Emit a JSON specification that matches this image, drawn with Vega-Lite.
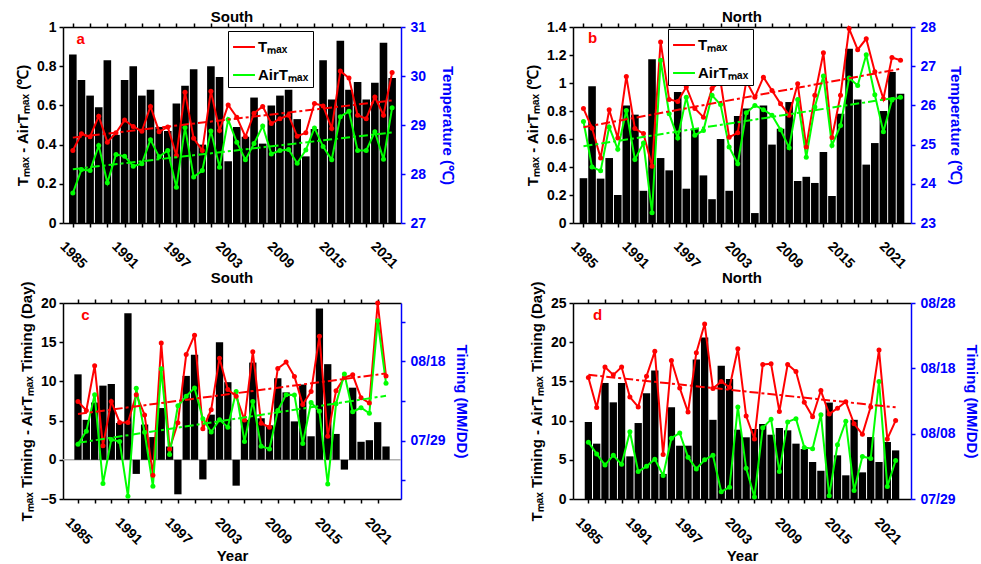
{
  "$schema": "https://vega.github.io/schema/vega-lite/v6.json",
  "padding": {"left": 15, "top": 10, "right": 5, "bottom": 2},
  "config": {
    "view": {"stroke": null},
    "axis": {"grid": false, "labelFont": "Liberation Sans", "labelFontSize": 14, "labelFontWeight": "bold", "titleFont": "Liberation Sans", "titleFontSize": 15, "titleFontWeight": "bold", "tickSize": 4, "tickWidth": 1.5, "domainWidth": 1.5, "labelColor": "black", "titleColor": "black", "tickColor": "black", "domainColor": "black", "labelPadding": 3, "labelOverlap": false},
    "title": {"font": "Liberation Sans", "fontSize": 15, "fontWeight": "bold", "offset": -5, "color": "black"}
  },
  "datasets": {
    "a": [
      {"year":1985,"diff":0.86,"Tmax":28.48,"AirTmax":27.61},{"year":1986,"diff":0.73,"Tmax":28.82,"AirTmax":28.09},{"year":1987,"diff":0.65,"Tmax":28.76,"AirTmax":28.07},{"year":1988,"diff":0.59,"Tmax":29.18,"AirTmax":28.58},{"year":1989,"diff":0.83,"Tmax":28.65,"AirTmax":27.82},{"year":1990,"diff":0.45,"Tmax":28.84,"AirTmax":28.40},{"year":1991,"diff":0.73,"Tmax":29.10,"AirTmax":28.36},{"year":1992,"diff":0.80,"Tmax":28.97,"AirTmax":28.16},{"year":1993,"diff":0.65,"Tmax":28.87,"AirTmax":28.21},{"year":1994,"diff":0.68,"Tmax":29.38,"AirTmax":28.70},{"year":1995,"diff":0.49,"Tmax":28.86,"AirTmax":28.35},{"year":1996,"diff":0.47,"Tmax":28.96,"AirTmax":28.48},{"year":1997,"diff":0.61,"Tmax":28.38,"AirTmax":27.73},{"year":1998,"diff":0.70,"Tmax":29.67,"AirTmax":28.95},{"year":1999,"diff":0.785,"Tmax":28.73,"AirTmax":27.94},{"year":2000,"diff":0.40,"Tmax":28.48,"AirTmax":28.07},{"year":2001,"diff":0.80,"Tmax":29.69,"AirTmax":28.88},{"year":2002,"diff":0.745,"Tmax":28.89,"AirTmax":28.14},{"year":2003,"diff":0.315,"Tmax":29.41,"AirTmax":29.11},{"year":2004,"diff":0.49,"Tmax":29.16,"AirTmax":28.65},{"year":2005,"diff":0.44,"Tmax":28.76,"AirTmax":28.29},{"year":2006,"diff":0.64,"Tmax":29.24,"AirTmax":28.62},{"year":2007,"diff":0.405,"Tmax":29.38,"AirTmax":28.98},{"year":2008,"diff":0.60,"Tmax":29.03,"AirTmax":28.41},{"year":2009,"diff":0.65,"Tmax":29.13,"AirTmax":28.48},{"year":2010,"diff":0.68,"Tmax":29.20,"AirTmax":28.50},{"year":2011,"diff":0.53,"Tmax":28.77,"AirTmax":28.22},{"year":2012,"diff":0.34,"Tmax":28.84,"AirTmax":28.49},{"year":2013,"diff":0.48,"Tmax":29.44,"AirTmax":28.94},{"year":2014,"diff":0.83,"Tmax":29.39,"AirTmax":28.56},{"year":2015,"diff":0.63,"Tmax":28.93,"AirTmax":28.29},{"year":2016,"diff":0.93,"Tmax":30.10,"AirTmax":29.17},{"year":2017,"diff":0.68,"Tmax":29.96,"AirTmax":29.28},{"year":2018,"diff":0.72,"Tmax":29.20,"AirTmax":28.48},{"year":2019,"diff":0.63,"Tmax":29.13,"AirTmax":28.48},{"year":2020,"diff":0.715,"Tmax":29.57,"AirTmax":28.86},{"year":2021,"diff":0.92,"Tmax":29.20,"AirTmax":28.30},{"year":2022,"diff":0.74,"Tmax":30.07,"AirTmax":29.35}
    ],
    "b": [
      {"year":1985,"diff":0.32,"Tmax":25.92,"AirTmax":25.59},{"year":1986,"diff":0.976,"Tmax":25.42,"AirTmax":24.43},{"year":1987,"diff":0.317,"Tmax":24.66,"AirTmax":24.33},{"year":1988,"diff":0.464,"Tmax":25.89,"AirTmax":25.45},{"year":1989,"diff":0.20,"Tmax":25.17,"AirTmax":24.88},{"year":1990,"diff":0.84,"Tmax":26.74,"AirTmax":25.87},{"year":1991,"diff":0.774,"Tmax":25.41,"AirTmax":24.62},{"year":1992,"diff":0.23,"Tmax":25.28,"AirTmax":25.04},{"year":1993,"diff":1.17,"Tmax":24.45,"AirTmax":23.26},{"year":1994,"diff":0.464,"Tmax":27.62,"AirTmax":27.15},{"year":1995,"diff":0.376,"Tmax":26.15,"AirTmax":25.79},{"year":1996,"diff":0.936,"Tmax":26.10,"AirTmax":25.17},{"year":1997,"diff":0.245,"Tmax":26.47,"AirTmax":26.21},{"year":1998,"diff":0.674,"Tmax":25.92,"AirTmax":25.24},{"year":1999,"diff":0.34,"Tmax":25.70,"AirTmax":25.36},{"year":2000,"diff":0.17,"Tmax":26.43,"AirTmax":26.26},{"year":2001,"diff":0.60,"Tmax":26.61,"AirTmax":26.02},{"year":2002,"diff":0.23,"Tmax":25.19,"AirTmax":24.94},{"year":2003,"diff":0.764,"Tmax":25.30,"AirTmax":24.51},{"year":2004,"diff":0.817,"Tmax":26.62,"AirTmax":25.81},{"year":2005,"diff":0.071,"Tmax":26.21,"AirTmax":26.00},{"year":2006,"diff":0.84,"Tmax":26.72,"AirTmax":25.89},{"year":2007,"diff":0.56,"Tmax":26.38,"AirTmax":25.75},{"year":2008,"diff":0.674,"Tmax":26.04,"AirTmax":25.38},{"year":2009,"diff":0.864,"Tmax":25.75,"AirTmax":24.92},{"year":2010,"diff":0.30,"Tmax":26.55,"AirTmax":26.15},{"year":2011,"diff":0.33,"Tmax":24.94,"AirTmax":24.68},{"year":2012,"diff":0.286,"Tmax":26.26,"AirTmax":25.96},{"year":2013,"diff":0.507,"Tmax":27.34,"AirTmax":26.75},{"year":2014,"diff":0.193,"Tmax":25.18,"AirTmax":24.98},{"year":2015,"diff":0.78,"Tmax":26.26,"AirTmax":25.49},{"year":2016,"diff":1.245,"Tmax":27.96,"AirTmax":26.70},{"year":2017,"diff":0.883,"Tmax":27.42,"AirTmax":26.51},{"year":2018,"diff":0.417,"Tmax":27.70,"AirTmax":27.29},{"year":2019,"diff":0.571,"Tmax":26.86,"AirTmax":26.27},{"year":2020,"diff":0.80,"Tmax":26.17,"AirTmax":25.33},{"year":2021,"diff":1.079,"Tmax":27.22,"AirTmax":26.14},{"year":2022,"diff":0.924,"Tmax":27.15,"AirTmax":26.21}
    ],
    "c": [
      {"year":1985,"diff":10.9,"Tmax":219.9,"AirTmax":209.1},{"year":1986,"diff":5.1,"Tmax":217.6,"AirTmax":212.4},{"year":1987,"diff":7.3,"Tmax":228.9,"AirTmax":221.6},{"year":1988,"diff":9.46,"Tmax":208.7,"AirTmax":199.2},{"year":1989,"diff":9.67,"Tmax":219.9,"AirTmax":210.3},{"year":1990,"diff":4.7,"Tmax":214.6,"AirTmax":209.8},{"year":1991,"diff":18.7,"Tmax":214.6,"AirTmax":196.0},{"year":1992,"diff":-1.8,"Tmax":221.6,"AirTmax":223.2},{"year":1993,"diff":4.5,"Tmax":216.5,"AirTmax":212.1},{"year":1994,"diff":2.9,"Tmax":201.3,"AirTmax":198.5},{"year":1995,"diff":6.6,"Tmax":234.6,"AirTmax":228.1},{"year":1996,"diff":1.7,"Tmax":207.9,"AirTmax":206.5},{"year":1997,"diff":-4.4,"Tmax":214.5,"AirTmax":218.8},{"year":1998,"diff":10.7,"Tmax":231.7,"AirTmax":221.2},{"year":1999,"diff":13.4,"Tmax":236.6,"AirTmax":223.3},{"year":2000,"diff":-2.5,"Tmax":213.0,"AirTmax":215.5},{"year":2001,"diff":5.76,"Tmax":217.8,"AirTmax":212.2},{"year":2002,"diff":15.0,"Tmax":230.8,"AirTmax":215.3},{"year":2003,"diff":9.9,"Tmax":222.9,"AirTmax":213.4},{"year":2004,"diff":-3.3,"Tmax":221.2,"AirTmax":222.4},{"year":2005,"diff":5.1,"Tmax":215.2,"AirTmax":209.8},{"year":2006,"diff":12.4,"Tmax":232.4,"AirTmax":219.9},{"year":2007,"diff":5.3,"Tmax":214.4,"AirTmax":208.6},{"year":2008,"diff":4.4,"Tmax":213.4,"AirTmax":207.9},{"year":2009,"diff":10.4,"Tmax":228.2,"AirTmax":217.6},{"year":2010,"diff":8.6,"Tmax":229.8,"AirTmax":221.6},{"year":2011,"diff":4.9,"Tmax":226.2,"AirTmax":221.5},{"year":2012,"diff":9.6,"Tmax":219.1,"AirTmax":209.3},{"year":2013,"diff":3.0,"Tmax":222.4,"AirTmax":219.6},{"year":2014,"diff":19.3,"Tmax":236.3,"AirTmax":217.4},{"year":2015,"diff":12.2,"Tmax":211.1,"AirTmax":199.1},{"year":2016,"diff":3.3,"Tmax":222.6,"AirTmax":219.3},{"year":2017,"diff":-1.25,"Tmax":225.9,"AirTmax":226.8},{"year":2018,"diff":9.2,"Tmax":226.6,"AirTmax":217.3},{"year":2019,"diff":2.3,"Tmax":220.8,"AirTmax":218.3},{"year":2020,"diff":2.5,"Tmax":219.5,"AirTmax":216.9},{"year":2021,"diff":4.8,"Tmax":244.7,"AirTmax":240.2},{"year":2022,"diff":1.7,"Tmax":226.3,"AirTmax":224.5}
    ],
    "d": [
      {"year":1985,"diff":9.82,"Tmax":228.6,"AirTmax":218.7},{"year":1986,"diff":7.06,"Tmax":224.0,"AirTmax":216.9},{"year":1987,"diff":14.8,"Tmax":230.2,"AirTmax":215.2},{"year":1988,"diff":12.33,"Tmax":229.0,"AirTmax":216.7},{"year":1989,"diff":14.8,"Tmax":230.2,"AirTmax":215.3},{"year":1990,"diff":5.44,"Tmax":225.6,"AirTmax":220.3},{"year":1991,"diff":9.69,"Tmax":224.1,"AirTmax":214.2},{"year":1992,"diff":13.5,"Tmax":228.8,"AirTmax":215.0},{"year":1993,"diff":16.4,"Tmax":232.6,"AirTmax":216.1},{"year":1994,"diff":3.2,"Tmax":216.8,"AirTmax":213.6},{"year":1995,"diff":11.7,"Tmax":231.2,"AirTmax":219.3},{"year":1996,"diff":6.8,"Tmax":227.0,"AirTmax":220.1},{"year":1997,"diff":6.8,"Tmax":223.3,"AirTmax":216.4},{"year":1998,"diff":17.8,"Tmax":232.4,"AirTmax":214.6},{"year":1999,"diff":20.6,"Tmax":236.8,"AirTmax":216.0},{"year":2000,"diff":10.1,"Tmax":226.9,"AirTmax":216.7},{"year":2001,"diff":17.0,"Tmax":228.0,"AirTmax":211.1},{"year":2002,"diff":15.3,"Tmax":227.1,"AirTmax":211.8},{"year":2003,"diff":8.84,"Tmax":233.0,"AirTmax":224.1},{"year":2004,"diff":7.87,"Tmax":222.7,"AirTmax":214.7},{"year":2005,"diff":8.93,"Tmax":219.2,"AirTmax":210.3},{"year":2006,"diff":9.57,"Tmax":230.6,"AirTmax":220.9},{"year":2007,"diff":8.2,"Tmax":230.7,"AirTmax":222.2},{"year":2008,"diff":9.06,"Tmax":223.4,"AirTmax":214.2},{"year":2009,"diff":8.76,"Tmax":230.6,"AirTmax":221.8},{"year":2010,"diff":7.06,"Tmax":229.5,"AirTmax":222.3},{"year":2011,"diff":6.38,"Tmax":224.8,"AirTmax":217.9},{"year":2012,"diff":4.72,"Tmax":222.6,"AirTmax":217.7},{"year":2013,"diff":3.6,"Tmax":226.6,"AirTmax":222.9},{"year":2014,"diff":12.3,"Tmax":223.0,"AirTmax":210.5},{"year":2015,"diff":5.57,"Tmax":223.9,"AirTmax":218.3},{"year":2016,"diff":3.02,"Tmax":224.9,"AirTmax":221.9},{"year":2017,"diff":10.1,"Tmax":221.5,"AirTmax":211.3},{"year":2018,"diff":3.4,"Tmax":219.9,"AirTmax":216.5},{"year":2019,"diff":7.9,"Tmax":224.1,"AirTmax":216.2},{"year":2020,"diff":4.72,"Tmax":232.8,"AirTmax":228.0},{"year":2021,"diff":7.27,"Tmax":219.2,"AirTmax":211.9},{"year":2022,"diff":6.2,"Tmax":222.0,"AirTmax":215.9}
    ]
  },
  "columns": 2,
  "bounds": "flush",
  "spacing": {"row": 80, "column": 172},
  "resolve": {"scale": {"x": "independent", "y": "independent", "color": "independent"}, "legend": {"color": "independent"}},
  "concat": [
    {
      "width": 338, "height": 196,
      "title": {"text": "South"},
      "data": {"name": "a"},
      "layer": [
        {
          "layer": [
            {
              "mark": {"type": "bar", "color": "black", "size": 7.6},
              "encoding": {
                "x": {"field": "year", "type": "quantitative", "scale": {"domain": [1984.44, 2022.45], "nice": false, "zero": false},
                  "axis": {"orient": "bottom", "values": [1985,1987,1989,1991,1993,1995,1997,1999,2001,2003,2005,2007,2009,2011,2013,2015,2017,2019,2021], "tickCount": 100, "format": "d", "labelExpr": "(datum.value - 1985) % 6 == 0 ? datum.label : ''", "labelOverlap": false, "labelAngle": 45, "labelAlign": "left", "labelBaseline": "top", "labelPadding": 12, "labelOffset": -6, "labelFlush": false, "title": null}},
                "y": {"field": "diff", "type": "quantitative", "scale": {"domain": [0, 1], "nice": false},
                  "axis": {"orient": "left", "values": [0, 0.2, 0.4, 0.6, 0.8, 1], "tickCount": 100, "format": "~g", "labelOverlap": false, "title": "Tₘₐₓ - AirTₘₐₓ (℃)", "titlePadding": 6}}
              }
            },
            {
              "data": {"values": [{"label": "a"}]},
              "mark": {"type": "text", "color": "#ff0000", "fontSize": 15, "fontWeight": "bold", "font": "Liberation Sans"},
              "encoding": {"x": {"datum": 1985.9, "type": "quantitative"}, "y": {"datum": 0.94, "type": "quantitative"}, "text": {"field": "label"}}
            }
          ]
        },
        {
          "transform": [{"fold": ["Tmax", "AirTmax"], "as": ["series", "temp"]}],
          "layer": [
            {
              "mark": {"type": "line", "strokeWidth": 2, "point": {"filled": true, "size": 25}},
              "encoding": {
                "x": {"field": "year", "type": "quantitative", "axis": {"orient": "top", "values": [1985,1987,1989,1991,1993,1995,1997,1999,2001,2003,2005,2007,2009,2011,2013,2015,2017,2019,2021], "tickCount": 100, "labels": false, "title": null}},
                "y": {"field": "temp", "type": "quantitative", "scale": {"domain": [27, 31], "nice": false, "zero": false},
                  "axis": {"orient": "right", "values": [27, 28, 29, 30, 31], "tickCount": 100, "format": "d", "labelOverlap": false, "labelPadding": 5, "title": "Temperature (℃)", "domainColor": "#0000ff", "tickColor": "#0000ff", "labelColor": "#0000ff", "titleColor": "#0000ff", "titlePadding": 14}},
                "color": {"field": "series", "type": "nominal", "scale": {"domain": ["Tmax", "AirTmax"], "range": ["#ff0000", "#00ff00"]},
                  "legend": {"orient": "none", "legendX": 165, "legendY": 4, "title": null, "strokeColor": "black", "fillColor": "white", "padding": 4, "symbolType": "stroke", "symbolStrokeWidth": 2, "symbolSize": 480, "labelFontSize": 15, "labelFont": "Liberation Sans", "labelFontWeight": "bold", "rowPadding": 8, "labelOffset": 2, "labelExpr": "datum.label == 'Tmax' ? 'Tₘₐₓ' : 'AirTₘₐₓ'"}}
              }
            },
            {
              "transform": [{"regression": "temp", "on": "year", "groupby": ["series"]}],
              "mark": {"type": "line", "strokeWidth": 2, "strokeDash": [9, 3, 3, 3]},
              "encoding": {
                "x": {"field": "year", "type": "quantitative"},
                "y": {"field": "temp", "type": "quantitative"},
                "color": {"field": "series", "type": "nominal"}
              }
            }
          ]
        }
      ],
      "resolve": {"scale": {"y": "independent"}, "axis": {"x": "independent"}}
    },
    {
      "width": 338, "height": 196,
      "title": {"text": "North"},
      "data": {"name": "b"},
      "layer": [
        {
          "layer": [
            {
              "mark": {"type": "bar", "color": "black", "size": 7.6},
              "encoding": {
                "x": {"field": "year", "type": "quantitative", "scale": {"domain": [1984.36, 2022.64], "nice": false, "zero": false},
                  "axis": {"orient": "bottom", "values": [1985,1987,1989,1991,1993,1995,1997,1999,2001,2003,2005,2007,2009,2011,2013,2015,2017,2019,2021], "tickCount": 100, "format": "d", "labelExpr": "(datum.value - 1985) % 6 == 0 ? datum.label : ''", "labelOverlap": false, "labelAngle": 45, "labelAlign": "left", "labelBaseline": "top", "labelPadding": 12, "labelOffset": -6, "labelFlush": false, "title": null}},
                "y": {"field": "diff", "type": "quantitative", "scale": {"domain": [0, 1.4], "nice": false},
                  "axis": {"orient": "left", "values": [0, 0.2, 0.4, 0.6, 0.8, 1, 1.2, 1.4], "tickCount": 100, "format": "~g", "labelOverlap": false, "title": "Tₘₐₓ - AirTₘₐₓ (℃)", "titlePadding": 6}}
              }
            },
            {
              "data": {"values": [{"label": "b"}]},
              "mark": {"type": "text", "color": "#ff0000", "fontSize": 15, "fontWeight": "bold", "font": "Liberation Sans"},
              "encoding": {"x": {"datum": 1986.05, "type": "quantitative"}, "y": {"datum": 1.32, "type": "quantitative"}, "text": {"field": "label"}}
            }
          ]
        },
        {
          "transform": [{"fold": ["Tmax", "AirTmax"], "as": ["series", "temp"]}],
          "layer": [
            {
              "mark": {"type": "line", "strokeWidth": 2, "point": {"filled": true, "size": 25}},
              "encoding": {
                "x": {"field": "year", "type": "quantitative", "axis": {"orient": "top", "values": [1985,1987,1989,1991,1993,1995,1997,1999,2001,2003,2005,2007,2009,2011,2013,2015,2017,2019,2021], "tickCount": 100, "labels": false, "title": null}},
                "y": {"field": "temp", "type": "quantitative", "scale": {"domain": [23, 28], "nice": false, "zero": false},
                  "axis": {"orient": "right", "values": [23, 24, 25, 26, 27, 28], "tickCount": 100, "format": "d", "labelOverlap": false, "labelPadding": 5, "title": "Temperature (℃)", "domainColor": "#0000ff", "tickColor": "#0000ff", "labelColor": "#0000ff", "titleColor": "#0000ff", "titlePadding": 12}},
                "color": {"field": "series", "type": "nominal", "scale": {"domain": ["Tmax", "AirTmax"], "range": ["#ff0000", "#00ff00"]},
                  "legend": {"orient": "none", "legendX": 95, "legendY": 2, "title": null, "strokeColor": "black", "fillColor": "white", "padding": 4, "symbolType": "stroke", "symbolStrokeWidth": 2, "symbolSize": 480, "labelFontSize": 15, "labelFont": "Liberation Sans", "labelFontWeight": "bold", "rowPadding": 8, "labelOffset": 2, "labelExpr": "datum.label == 'Tmax' ? 'Tₘₐₓ' : 'AirTₘₐₓ'"}}
              }
            },
            {
              "transform": [{"regression": "temp", "on": "year", "groupby": ["series"]}],
              "mark": {"type": "line", "strokeWidth": 2, "strokeDash": [9, 3, 3, 3]},
              "encoding": {
                "x": {"field": "year", "type": "quantitative"},
                "y": {"field": "temp", "type": "quantitative"},
                "color": {"field": "series", "type": "nominal"}
              }
            }
          ]
        }
      ],
      "resolve": {"scale": {"y": "independent"}, "axis": {"x": "independent"}}
    },
    {
      "width": 338, "height": 196,
      "title": {"text": "South"},
      "data": {"name": "c"},
      "layer": [
        {
          "layer": [
            {
              "data": {"values": [{"zero": 0}]},
              "mark": {"type": "rule", "color": "#b0b0b0", "strokeWidth": 1.5},
              "encoding": {"y": {"field": "zero", "type": "quantitative"}}
            },
            {
              "mark": {"type": "bar", "color": "black", "size": 7.3},
              "encoding": {
                "x": {"field": "year", "type": "quantitative", "scale": {"domain": [1983.8, 2023.2], "nice": false, "zero": false},
                  "axis": {"orient": "bottom", "values": [1985,1987,1989,1991,1993,1995,1997,1999,2001,2003,2005,2007,2009,2011,2013,2015,2017,2019,2021], "tickCount": 100, "format": "d", "labelExpr": "(datum.value - 1985) % 6 == 0 ? datum.label : ''", "labelOverlap": false, "labelAngle": 45, "labelAlign": "left", "labelBaseline": "top", "labelPadding": 12, "labelOffset": -6, "labelFlush": false, "title": "Year", "titlePadding": 2}},
                "y": {"field": "diff", "type": "quantitative", "scale": {"domain": [-5, 20], "nice": false, "zero": false},
                  "axis": {"orient": "left", "values": [-5, 0, 5, 10, 15, 20], "tickCount": 100, "format": "d", "labelOverlap": false, "title": "Tₘₐₓ Timing - AirTₘₐₓ Timing (Day)", "titlePadding": 6}}
              }
            },
            {
              "data": {"values": [{"label": "c"}]},
              "mark": {"type": "text", "color": "#ff0000", "fontSize": 15, "fontWeight": "bold", "font": "Liberation Sans"},
              "encoding": {"x": {"datum": 1985.9, "type": "quantitative"}, "y": {"datum": 18.5, "type": "quantitative"}, "text": {"field": "label"}}
            }
          ]
        },
        {
          "transform": [{"fold": ["Tmax", "AirTmax"], "as": ["series", "doy"]}],
          "layer": [
            {
              "mark": {"type": "line", "strokeWidth": 2, "point": {"filled": true, "size": 25}},
              "encoding": {
                "x": {"field": "year", "type": "quantitative", "axis": {"orient": "top", "values": [1985,1987,1989,1991,1993,1995,1997,1999,2001,2003,2005,2007,2009,2011,2013,2015,2017,2019,2021], "tickCount": 100, "labels": false, "title": null}},
                "y": {"field": "doy", "type": "quantitative", "scale": {"domain": [195.3, 244.7], "nice": false, "zero": false},
                  "axis": {"orient": "right", "values": [200, 210, 220, 230, 240], "tickCount": 100, "labelOverlap": false, "labelPadding": 5, "labelExpr": "datum.value == 210 ? '07/29' : datum.value == 230 ? '08/18' : ''", "title": "Timing (MM/DD)", "domainColor": "#0000ff", "tickColor": "#0000ff", "labelColor": "#0000ff", "titleColor": "#0000ff", "titlePadding": 8}},
                "color": {"field": "series", "type": "nominal", "scale": {"domain": ["Tmax", "AirTmax"], "range": ["#ff0000", "#00ff00"]}, "legend": null}
              }
            },
            {
              "transform": [{"regression": "doy", "on": "year", "groupby": ["series"]}],
              "mark": {"type": "line", "strokeWidth": 2, "strokeDash": [9, 3, 3, 3]},
              "encoding": {
                "x": {"field": "year", "type": "quantitative"},
                "y": {"field": "doy", "type": "quantitative"},
                "color": {"field": "series", "type": "nominal"}
              }
            }
          ]
        }
      ],
      "resolve": {"scale": {"y": "independent"}, "axis": {"x": "independent"}}
    },
    {
      "width": 338, "height": 196,
      "title": {"text": "North"},
      "data": {"name": "d"},
      "layer": [
        {
          "layer": [
            {
              "mark": {"type": "bar", "color": "black", "size": 7.3},
              "encoding": {
                "x": {"field": "year", "type": "quantitative", "scale": {"domain": [1983.75, 2023.25], "nice": false, "zero": false},
                  "axis": {"orient": "bottom", "values": [1985,1987,1989,1991,1993,1995,1997,1999,2001,2003,2005,2007,2009,2011,2013,2015,2017,2019,2021], "tickCount": 100, "format": "d", "labelExpr": "(datum.value - 1985) % 6 == 0 ? datum.label : ''", "labelOverlap": false, "labelAngle": 45, "labelAlign": "left", "labelBaseline": "top", "labelPadding": 12, "labelOffset": -6, "labelFlush": false, "title": "Year", "titlePadding": 2}},
                "y": {"field": "diff", "type": "quantitative", "scale": {"domain": [0, 25], "nice": false},
                  "axis": {"orient": "left", "values": [0, 5, 10, 15, 20, 25], "tickCount": 100, "format": "d", "labelOverlap": false, "title": "Tₘₐₓ Timing - AirTₘₐₓ Timing (Day)", "titlePadding": 6}}
              }
            },
            {
              "data": {"values": [{"label": "d"}]},
              "mark": {"type": "text", "color": "#ff0000", "fontSize": 15, "fontWeight": "bold", "font": "Liberation Sans"},
              "encoding": {"x": {"datum": 1986.1, "type": "quantitative"}, "y": {"datum": 23.5, "type": "quantitative"}, "text": {"field": "label"}}
            }
          ]
        },
        {
          "transform": [{"fold": ["Tmax", "AirTmax"], "as": ["series", "doy"]}],
          "layer": [
            {
              "mark": {"type": "line", "strokeWidth": 2, "point": {"filled": true, "size": 25}},
              "encoding": {
                "x": {"field": "year", "type": "quantitative", "axis": {"orient": "top", "values": [1985,1987,1989,1991,1993,1995,1997,1999,2001,2003,2005,2007,2009,2011,2013,2015,2017,2019,2021], "tickCount": 100, "labels": false, "title": null}},
                "y": {"field": "doy", "type": "quantitative", "scale": {"domain": [210, 240], "nice": false, "zero": false},
                  "axis": {"orient": "right", "values": [210, 220, 230, 240], "tickCount": 100, "labelOverlap": false, "labelPadding": 5, "labelExpr": "datum.value == 210 ? '07/29' : datum.value == 220 ? '08/08' : datum.value == 230 ? '08/18' : '08/28'", "title": "Timing (MM/DD)", "domainColor": "#0000ff", "tickColor": "#0000ff", "labelColor": "#0000ff", "titleColor": "#0000ff", "titlePadding": 8}},
                "color": {"field": "series", "type": "nominal", "scale": {"domain": ["Tmax", "AirTmax"], "range": ["#ff0000", "#00ff00"]}, "legend": null}
              }
            },
            {
              "transform": [{"filter": "datum.series == 'Tmax'"}, {"regression": "doy", "on": "year", "groupby": ["series"]}],
              "mark": {"type": "line", "strokeWidth": 2, "strokeDash": [9, 3, 3, 3]},
              "encoding": {
                "x": {"field": "year", "type": "quantitative"},
                "y": {"field": "doy", "type": "quantitative"},
                "color": {"field": "series", "type": "nominal"}
              }
            }
          ]
        }
      ],
      "resolve": {"scale": {"y": "independent"}, "axis": {"x": "independent"}}
    }
  ]
}
